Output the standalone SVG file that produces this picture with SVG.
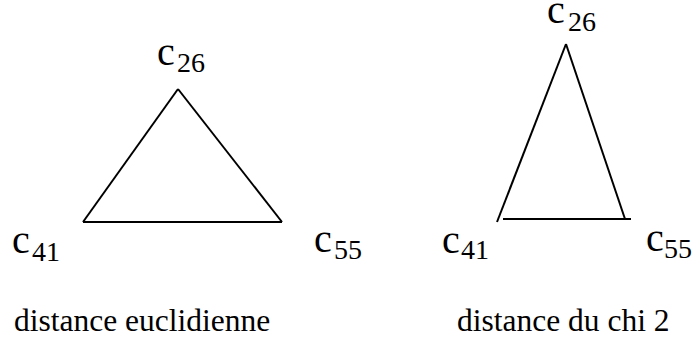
<svg xmlns="http://www.w3.org/2000/svg" width="698" height="339" viewBox="0 0 698 339">
<style>
.c{font-family:"Liberation Serif","Times New Roman",serif;font-size:40px;fill:#000}
.s{font-family:"Liberation Serif","Times New Roman",serif;font-size:28px;fill:#000}
.cap{font-family:"Liberation Serif","Times New Roman",serif;font-size:31.5px;fill:#000}
.e{stroke:#000;stroke-width:2;fill:none;stroke-linecap:butt}
</style>
<rect width="698" height="339" fill="#fff"/>
<g id="connectors">
<line class="e" x1="178" y1="89" x2="83" y2="222"/>
<line class="e" x1="178" y1="89" x2="282" y2="222"/>
<line class="e" x1="83" y1="222" x2="282" y2="222"/>
<line class="e" x1="497" y1="222" x2="566" y2="44"/>
<line class="e" x1="566" y1="44" x2="625" y2="219"/>
<line class="e" x1="503" y1="219" x2="631" y2="219"/>
</g>
<g id="left-c26"><text class="c" x="157" y="65">c</text><text class="s" x="177" y="72">26</text></g>
<g id="left-c41"><text class="c" x="12" y="253">c</text><text class="s" x="32" y="261">41</text></g>
<g id="left-c55"><text class="c" x="314" y="252">c</text><text class="s" x="334" y="259">55</text></g>
<g id="right-c26"><text class="c" x="547" y="23">c</text><text class="s" x="568" y="31">26</text></g>
<g id="right-c41"><text class="c" x="442" y="253">c</text><text class="s" x="461" y="259">41</text></g>
<g id="right-c55"><text class="c" x="646" y="251">c</text><text class="s" x="664" y="258">55</text></g>
<g id="captions">
<text class="cap" x="14" y="331">distance euclidienne</text>
<text class="cap" x="457" y="331">distance du chi 2</text>
</g>
</svg>
